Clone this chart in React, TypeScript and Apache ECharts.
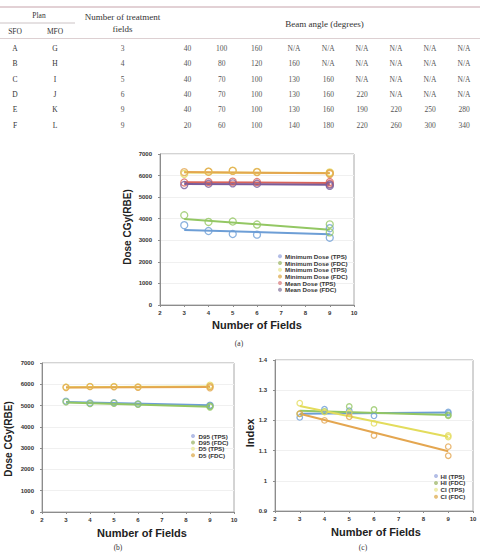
import React, { useEffect, useRef } from "react";
import * as echarts from "echarts";

// ---- Table: beam arrangements ----
const sfoPlans = ["A", "B", "C", "D", "E", "F"];
const mfoPlans = ["G", "H", "I", "J", "K", "L"];
const treatmentFields = ["3", "4", "5", "6", "9", "9"];
const beamAngles = [
  ["40", "100", "160", "N/A", "N/A", "N/A", "N/A", "N/A", "N/A"],
  ["40", "80", "120", "160", "N/A", "N/A", "N/A", "N/A", "N/A"],
  ["40", "70", "100", "130", "160", "N/A", "N/A", "N/A", "N/A"],
  ["40", "70", "100", "130", "160", "220", "N/A", "N/A", "N/A"],
  ["40", "70", "100", "130", "160", "190", "220", "250", "280"],
  ["20", "60", "100", "140", "180", "220", "260", "300", "340"],
];

// ---- Shared x values (number of fields per plan) ----
const fieldCounts = [3, 4, 5, 6, 9, 9];

// ---- (a) target dose ----
const minDoseTps = [3700, 3430, 3290, 3260, 3560, 3120];
const minDoseFdc = [4160, 3850, 3870, 3730, 3740, 3370];
const maxDoseTps = [6080, 6180, 6230, 6170, 6150, 6110];
const maxDoseFdc = [6160, 6180, 6220, 6160, 6110, 6070];
const meanDoseTps = [5680, 5700, 5720, 5700, 5700, 5620];
const meanDoseFdc = [5560, 5620, 5640, 5620, 5580, 5520];
const trendMinTps = [3480, 3280];
const trendMinFdc = [3990, 3490];
const trendMaxTps = [6140, 6120];
const trendMaxFdc = [6160, 6110];
const trendMeanTps = [5690, 5660];
const trendMeanFdc = [5610, 5580];

// ---- (b) D95 / D5 ----
const d95Tps = [5210, 5120, 5140, 5080, 5020, 4990];
const d95Fdc = [5170, 5090, 5110, 5060, 4970, 4930];
const d5Tps = [5870, 5900, 5900, 5880, 5960, 5880];
const d5Fdc = [5850, 5890, 5880, 5860, 5900, 5830];
const trendD95Tps = [5170, 5010];
const trendD95Fdc = [5150, 4950];
const trendD5Tps = [5860, 5900];
const trendD5Fdc = [5850, 5870];

// ---- (c) homogeneity / conformity indices ----
const hiTps = [1.21, 1.237, 1.232, 1.215, 1.228, 1.224];
const hiFdc = [1.222, 1.23, 1.246, 1.236, 1.218, 1.215];
const ciTps = [1.257, 1.228, 1.225, 1.19, 1.15, 1.145];
const ciFdc = [1.222, 1.2, 1.212, 1.15, 1.113, 1.083];
const trendHiTps = [1.222, 1.226];
const trendHiFdc = [1.232, 1.218];
const trendCiTps = [1.248, 1.146];
const trendCiFdc = [1.222, 1.098];
const trendX = [3, 9];

// Legend captions, in drawing order
const legendA = [
  "Minimum Dose (TPS)",
  "Minimum Dose (FDC)",
  "Minimum Dose (TPS)",
  "Minimum Dose (FDC)",
  "Mean Dose (TPS)",
  "Mean Dose (FDC)",
];
const legendB = ["D95 (TPS)", "D95 (FDC)", "D5 (TPS)", "D5 (FDC)"];
const legendC = ["HI (TPS)", "HI (FDC)", "CI (TPS)", "CI (FDC)"];

const BLUE = "#6d9ed6";
const GREEN = "#93c763";
const YELLOW = "#e3dc5c";
const ORANGE = "#e4a650";
const RED = "#d9645a";
const PURPLE = "#7a5c9a";

const PALE_A = ["#b3bde6", "#b6c88e", "#efedae", "#e6c07a", "#e3a0a0", "#a79cb8"];
const PALE_BC = ["#b3bde6", "#b6c88e", "#efedae", "#e6c07a"];

const SANS = '"Liberation Sans", Arial, sans-serif';
const SERIF = '"Liberation Serif", "DejaVu Serif", serif';

function pts(values: number[]) {
  return fieldCounts.map((x, i) => [x, values[i]]);
}
function trend(values: number[]) {
  return trendX.map((x, i) => [x, values[i]]);
}

function scatter(name: string, values: number[], color: string, gi: number, size: number) {
  return {
    type: "scatter",
    name,
    xAxisIndex: gi,
    yAxisIndex: gi,
    data: pts(values),
    symbol: "circle",
    symbolSize: size,
    z: 4,
    itemStyle: { color: "rgba(255,255,255,0)", borderColor: color, borderWidth: 1.3 },
  };
}
function trendLine(name: string, values: number[], color: string, gi: number) {
  return {
    type: "line",
    name,
    xAxisIndex: gi,
    yAxisIndex: gi,
    data: trend(values),
    symbol: "none",
    silent: true,
    z: 3,
    lineStyle: { color, width: 2 },
  };
}

function xAxis(gi: number) {
  return {
    type: "value",
    gridIndex: gi,
    min: 2,
    max: 10,
    interval: 1,
    axisLine: { show: true, lineStyle: { color: "#8c8c8c", width: 1 } },
    axisTick: { show: true, length: 2, lineStyle: { color: "#8c8c8c" } },
    axisLabel: { fontSize: 6, fontWeight: "bold", color: "#333", fontFamily: SANS, margin: 5 },
    splitLine: { show: false },
  };
}
function yAxis(gi: number, min: number, max: number, interval: number) {
  return {
    type: "value",
    gridIndex: gi,
    min,
    max,
    interval,
    axisLine: { show: true, lineStyle: { color: "#8c8c8c", width: 1 } },
    axisTick: { show: true, length: 2, lineStyle: { color: "#8c8c8c" } },
    axisLabel: {
      fontSize: 6,
      fontWeight: "bold",
      color: "#333",
      fontFamily: SANS,
      margin: 8,
      formatter: (v: number) => String(Math.round(v * 100) / 100),
    },
    splitLine: { show: true, lineStyle: { color: "#f0f0f0", width: 1 } },
  };
}

function text(t: string, x: number, y: number, font: string, fill = "#333", rotation = 0, align = "center") {
  return {
    type: "text",
    x,
    y,
    rotation,
    silent: true,
    z: 100,
    style: {
      text: t,
      font,
      fill,
      align,
      verticalAlign: "middle",
      textAlign: align,
      textVerticalAlign: "middle",
    },
  };
}

// Hand-placed legend block: a pale dot followed by a bold caption per row
function legendBlock(labels: string[], colors: string[], dotX: number, textX: number, top: number, step: number) {
  const els: any[] = [];
  labels.forEach((label, i) => {
    const y = top + i * step;
    els.push({ type: "circle", silent: true, z: 100, shape: { cx: dotX, cy: y, r: 2 }, style: { fill: colors[i] } });
    els.push(text(label, textX, y, `bold 6.2px ${SANS}`, "#333", 0, "left"));
  });
  return els;
}

function tableGraphics() {
  const els: any[] = [];
  const headFont = `9px ${SERIF}`;
  const cellFont = `7.5px ${SERIF}`;
  els.push({ type: "line", silent: true, shape: { x1: 0, y1: 7, x2: 480, y2: 7 }, style: { stroke: "#c6a3ab", lineWidth: 1 } });
  els.push({ type: "line", silent: true, shape: { x1: 0, y1: 23, x2: 75, y2: 23 }, style: { stroke: "#bfb4b6", lineWidth: 0.8 } });
  els.push({ type: "line", silent: true, shape: { x1: 0, y1: 38.5, x2: 480, y2: 38.5 }, style: { stroke: "#d4c4c7", lineWidth: 0.8 } });
  els.push(text("Plan", 39, 15, cellFont, "#333"));
  els.push(text("SFO", 15, 31.5, cellFont, "#333"));
  els.push(text("MFO", 55, 31.5, cellFont, "#333"));
  els.push(text("Number of treatment", 122.5, 17, headFont, "#333"));
  els.push(text("fields", 122.5, 29, headFont, "#333"));
  els.push(text("Beam angle (degrees)", 324.5, 24, headFont, "#333"));
  const colX = [187.5, 221.7, 256.7, 294, 328.3, 362, 396, 430, 464];
  sfoPlans.forEach((p, r) => {
    const y = 48.3 + r * 15.35;
    els.push(text(p, 15, y, cellFont, "#333"));
    els.push(text(mfoPlans[r], 55, y, cellFont, "#333"));
    els.push(text(treatmentFields[r], 122.5, y, cellFont, "#555"));
    beamAngles[r].forEach((a, c) => els.push(text(a, colX[c], y, cellFont, "#555")));
  });
  return els;
}

export default function App() {
  const ref = useRef<HTMLDivElement>(null);
  useEffect(() => {
    if (!ref.current) return;
    const chart = echarts.init(ref.current, undefined, { renderer: "svg" });
    const titleFont = `bold 11px ${SANS}`;
    const yTitleFont = `bold 10px ${SANS}`;
    const capFont = `7.5px ${SERIF}`;
    chart.setOption({
      animation: false,
      backgroundColor: "#ffffff",
      grid: [
        { left: 160, top: 154, width: 194, height: 151, show: true, borderColor: "#a8a8a8", borderWidth: 1, backgroundColor: "transparent" },
        { left: 42, top: 363, width: 192, height: 149, show: true, borderColor: "#a8a8a8", borderWidth: 1, backgroundColor: "transparent" },
        { left: 275, top: 360, width: 198, height: 151, show: true, borderColor: "#a8a8a8", borderWidth: 1, backgroundColor: "transparent" },
      ],
      xAxis: [xAxis(0), xAxis(1), xAxis(2)],
      yAxis: [yAxis(0, 0, 7000, 1000), yAxis(1, 0, 7000, 1000), yAxis(2, 0.9, 1.4, 0.1)],
      series: [
        trendLine("tMinTps", trendMinTps, BLUE, 0),
        trendLine("tMinFdc", trendMinFdc, GREEN, 0),
        trendLine("tMaxTps", trendMaxTps, YELLOW, 0),
        trendLine("tMaxFdc", trendMaxFdc, ORANGE, 0),
        trendLine("tMeanTps", trendMeanTps, RED, 0),
        trendLine("tMeanFdc", trendMeanFdc, PURPLE, 0),
        scatter("minTps", minDoseTps, BLUE, 0, 7),
        scatter("minFdc", minDoseFdc, GREEN, 0, 7),
        scatter("maxTps", maxDoseTps, YELLOW, 0, 7),
        scatter("maxFdc", maxDoseFdc, ORANGE, 0, 7),
        scatter("meanTps", meanDoseTps, RED, 0, 7),
        scatter("meanFdc", meanDoseFdc, PURPLE, 0, 7),

        trendLine("tD95Tps", trendD95Tps, BLUE, 1),
        trendLine("tD95Fdc", trendD95Fdc, GREEN, 1),
        trendLine("tD5Tps", trendD5Tps, YELLOW, 1),
        trendLine("tD5Fdc", trendD5Fdc, ORANGE, 1),
        scatter("d95Tps", d95Tps, BLUE, 1, 6),
        scatter("d95Fdc", d95Fdc, GREEN, 1, 6),
        scatter("d5Tps", d5Tps, YELLOW, 1, 6),
        scatter("d5Fdc", d5Fdc, ORANGE, 1, 6),

        trendLine("tHiTps", trendHiTps, BLUE, 2),
        trendLine("tHiFdc", trendHiFdc, GREEN, 2),
        trendLine("tCiTps", trendCiTps, YELLOW, 2),
        trendLine("tCiFdc", trendCiFdc, ORANGE, 2),
        scatter("hiTps", hiTps, BLUE, 2, 5.5),
        scatter("hiFdc", hiFdc, GREEN, 2, 5.5),
        scatter("ciTps", ciTps, YELLOW, 2, 5.5),
        scatter("ciFdc", ciFdc, ORANGE, 2, 5.5),
      ],
      graphic: [
        ...tableGraphics(),
        ...legendBlock(legendA, PALE_A, 280, 285, 256.3, 6.7),
        ...legendBlock(legendB, PALE_BC, 193, 198.5, 436, 6.4),
        ...legendBlock(legendC, PALE_BC, 436, 440.5, 476, 6.9),
        text("Dose CGy(RBE)", 127, 227, yTitleFont, "#222", Math.PI / 2),
        text("Number of Fields", 257, 325, titleFont, "#222"),
        text("(a)", 239, 343, capFont, "#333"),
        text("Dose CGy(RBE)", 8, 439, yTitleFont, "#222", Math.PI / 2),
        text("Number of Fields", 142, 533, titleFont, "#222"),
        text("(b)", 118, 547, capFont, "#333"),
        text("Index", 250, 433, titleFont, "#222", Math.PI / 2),
        text("Number of Fields", 376, 532, titleFont, "#222"),
        text("(c)", 363, 547, capFont, "#333"),
      ],
    });
    return () => chart.dispose();
  }, []);
  return (
    <div
      ref={ref}
      style={{ position: "absolute", left: 0, top: 0, width: 480, height: 553, background: "#fff" }}
    />
  );
}
